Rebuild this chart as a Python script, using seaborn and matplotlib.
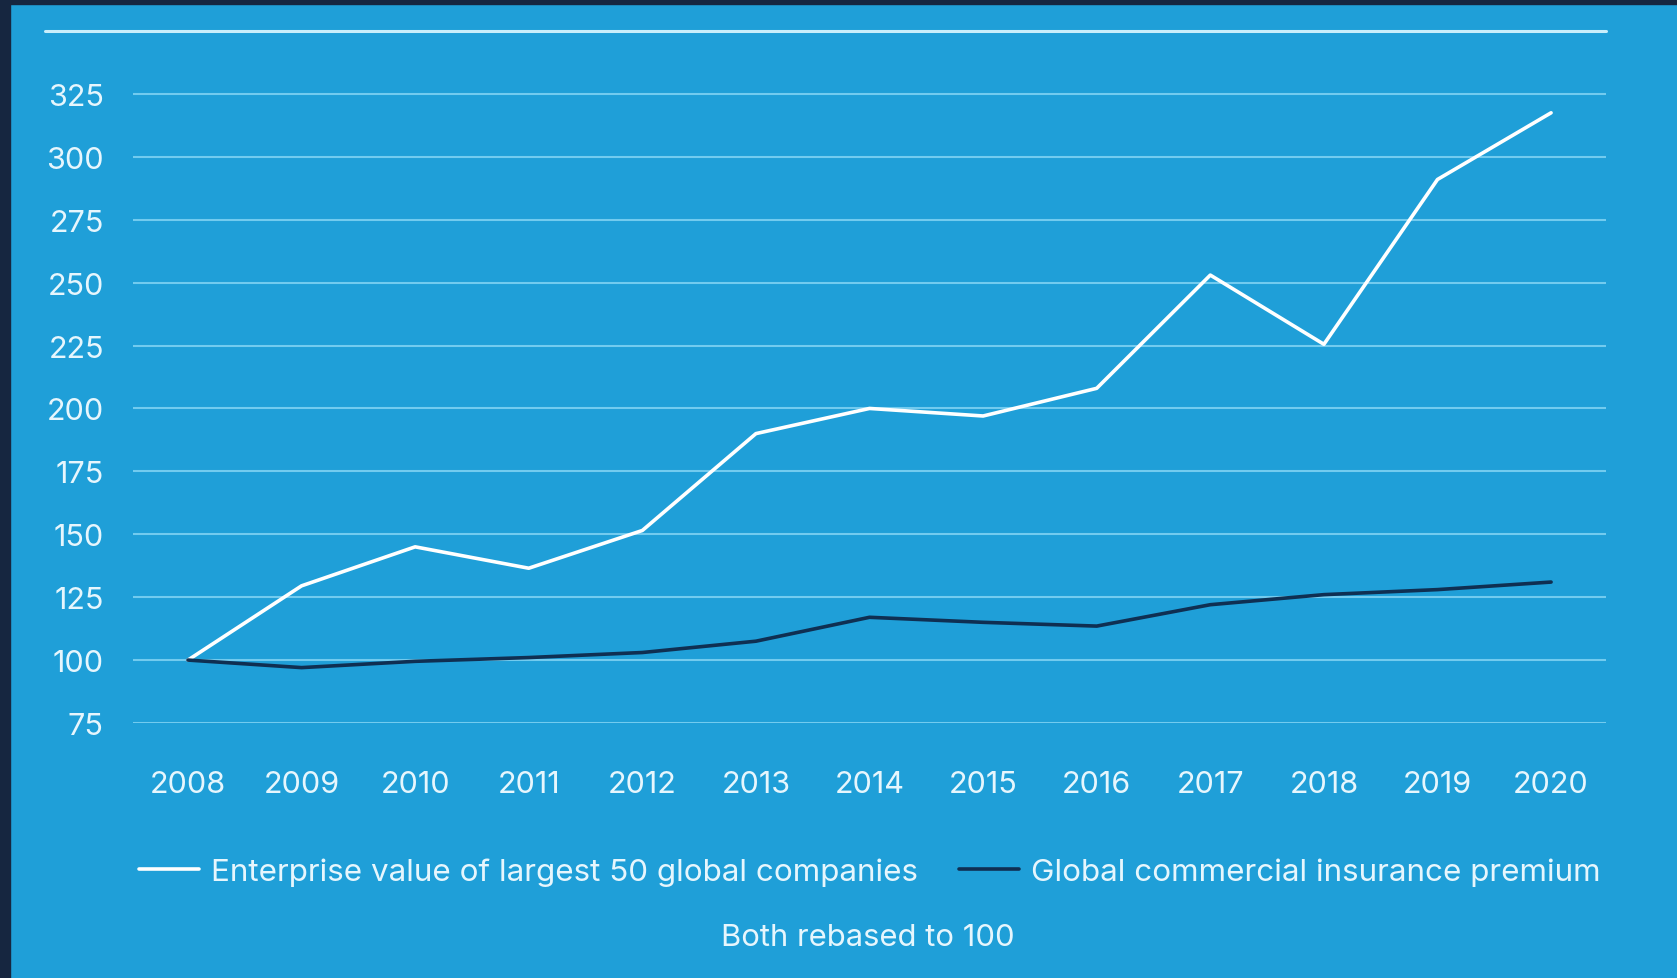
import matplotlib
matplotlib.use("Agg")
import matplotlib.pyplot as plt
from matplotlib.lines import Line2D
from matplotlib.patches import Rectangle
import seaborn as sns
import pandas as pd

years = [2008, 2009, 2010, 2011, 2012, 2013, 2014, 2015, 2016, 2017, 2018, 2019, 2020]
enterprise_value = [100, 129.5, 145, 136.5, 151.5, 190, 200, 197, 208, 253, 225.5, 291, 317.5]
insurance_premium = [100, 97, 99.5, 101, 103, 107.5, 117, 115, 113.5, 122, 126, 128, 131]
series_names = ["Enterprise value of largest 50 global companies",
                "Global commercial insurance premium"]
y_ticks = [75, 100, 125, 150, 175, 200, 225, 250, 275, 300, 325]
subtitle = "Both rebased to 100"

BG = "#1f9fd8"
NAVY = "#0f2f52"
BORDER = "#162640"
TXT = "#e6f6fd"
GRID = "#72cbef"

df = pd.DataFrame({
    "year": years * 2,
    "value": enterprise_value + insurance_premium,
    "series": [series_names[0]] * len(years) + [series_names[1]] * len(years),
})

sns.set_theme(style="white")
plt.rcParams["font.family"] = ["Inter", "DejaVu Sans"]

fig = plt.figure(figsize=(16.77, 9.79), dpi=100, facecolor=BG)
ax = fig.add_axes([0.0793, 0.2605, 0.8784, 0.7068])
ax.set_facecolor(BG)

sns.lineplot(data=df, x="year", y="value", hue="series",
             palette={series_names[0]: "#ffffff", series_names[1]: NAVY},
             linewidth=2.6, ax=ax, legend=False)

ax.set_xlim(2007.516, 2020.484)
ax.set_ylim(75, 350)
ax.set_yticks(y_ticks)
ax.set_xticks(years)
ax.set_xticklabels([str(y) for y in years])
for yv in y_ticks:
    ax.axhline(yv, color=GRID, lw=1.5, zorder=0)
ax.grid(False)
for s in ax.spines.values():
    s.set_visible(False)
ax.tick_params(axis="y", length=0, pad=21, labelsize=22, labelcolor=TXT)
ax.tick_params(axis="x", length=0, pad=34, labelsize=22, labelcolor=TXT)
ax.set_xlabel("")
ax.set_ylabel("")

# top rule
fig.add_artist(Line2D([45 / 1677, 1606 / 1677], [1 - 32 / 979, 1 - 32 / 979],
                      color="#c9eefb", lw=2.2))
# dark border strips
fig.add_artist(Rectangle((0, 0), 10 / 1677, 1, transform=fig.transFigure,
                         color=BORDER, zorder=10))
fig.add_artist(Rectangle((0, 1 - 5 / 979), 1, 5 / 979, transform=fig.transFigure,
                         color=BORDER, zorder=10))

handles = [Line2D([0], [0], color="#ffffff", lw=2.6),
           Line2D([0], [0], color=NAVY, lw=2.6)]
leg = fig.legend(handles, series_names, loc="center", ncol=2,
                 bbox_to_anchor=(870 / 1677, 1 - 873 / 979), frameon=False,
                 fontsize=22.6, handlelength=1.9, handletextpad=0.4,
                 columnspacing=1.3)
for t in leg.get_texts():
    t.set_color(TXT)

fig.text(868 / 1677, 1 - 938 / 979, subtitle, ha="center", va="center",
         fontsize=22.3, color=TXT)

fig.savefig("out.png", dpi=100, facecolor=BG)
